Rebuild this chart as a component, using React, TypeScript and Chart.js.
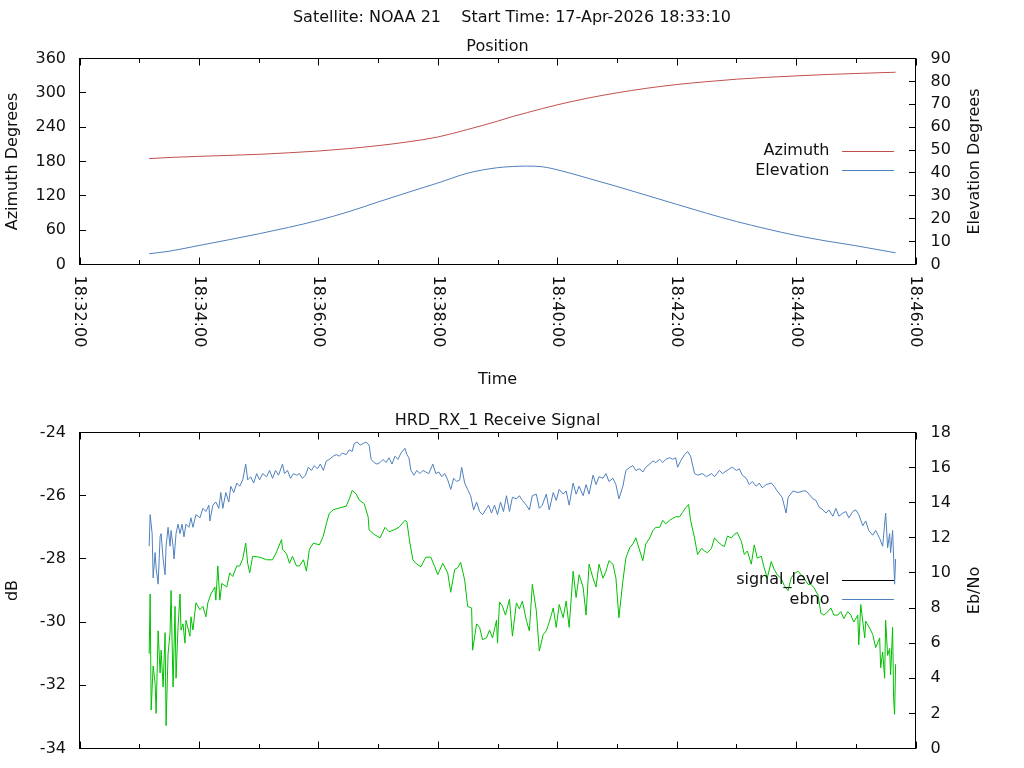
import React, { useEffect, useRef } from "react";
import { Chart, registerables } from "chart.js";

Chart.register(...registerables);

// ---------- data ----------
const BASE_SECONDS = 18 * 3600 + 32 * 60; // 18:32:00, x values are seconds after this
const X_MIN = 0;
const X_MAX = 840;
const X_MAJOR = 120;

const mainTitle = "Satellite: NOAA 21    Start Time: 17-Apr-2026 18:33:10";
const positionTitle = "Position";
const signalTitle = "HRD_RX_1 Receive Signal";
const timeTitle = "Time";
const azTitle = "Azimuth Degrees";
const elTitle = "Elevation Degrees";
const dbTitle = "dB";
const ebnoTitle = "Eb/No";

const posTimes = [70, 90, 120, 150, 180, 210, 240, 270, 300, 330, 360, 390, 420, 435, 450, 465, 480, 510, 540, 570, 600, 630, 660, 690, 720, 750, 780, 820];
const azimuth = [185, 187, 189, 190.7, 192.5, 195.2, 198.3, 202.5, 207.7, 214.3, 222.8, 236, 250.5, 258.5, 265.5, 272.5, 279, 290.5, 300, 308, 314.5, 319.5, 323.8, 327, 329.6, 332, 333.8, 336];
const elevation = [4.7, 5.8, 8.3, 10.8, 13.4, 16.2, 19.3, 23.0, 27.3, 31.5, 35.6, 39.9, 42.3, 42.8, 43.0, 42.7, 41.4, 37.8, 34.1, 30.2, 26.3, 22.4, 18.8, 15.6, 12.7, 10.3, 8.2, 5.1];

const sigTimes = [
  70, 71, 73, 74, 76, 77, 79, 81, 82, 84,
  86, 87, 89, 91, 92, 94, 95, 97, 99, 101,
  103, 105, 107, 110, 112, 114, 117, 121, 124, 127,
  130, 131, 134, 137, 140, 142, 144, 147, 150, 152,
  155, 158, 161, 164, 167, 169, 172, 175, 178, 181,
  184, 188, 191, 194, 197, 200, 204, 206, 209, 212,
  215, 218, 221, 224, 227, 230, 233, 236, 239, 242,
  245, 248, 251, 255, 258, 261, 264, 268, 271, 274,
  276, 279, 282, 285, 288, 291, 293, 296, 299, 302,
  305, 308, 311, 314, 317, 320, 323, 327, 329, 331,
  333, 336, 339, 342, 345, 348, 351, 355, 358, 361,
  364, 367, 370, 373, 376, 379, 382, 384, 387, 390,
  393, 396, 399, 402, 405, 408, 411, 414, 417, 420,
  423, 426, 429, 432, 435, 439, 442, 445, 449, 452,
  455, 459, 462, 465, 469, 472, 476, 479, 482, 486,
  489, 492, 496, 499, 502, 506, 509, 512, 516, 519,
  522, 526, 529, 532, 536, 539, 542, 546, 549, 553,
  556, 559, 563, 566, 569, 573, 576, 579, 583, 586,
  589, 593, 596, 599, 601, 604, 608, 611, 614, 618,
  621, 626, 630, 635, 638, 643, 646, 653, 656, 660,
  663, 666, 670, 673, 676, 680, 683, 686, 690, 695,
  698, 701, 706, 710, 712, 717, 722, 727, 730, 733,
  737, 740, 743, 747, 750, 753, 757, 760, 763, 767,
  770, 773, 777, 780, 783, 787, 790, 793, 797, 800,
  804, 807, 810, 812, 814, 815, 817, 819, 820,
];
const sigLevel = [
  -27.6, -26.6, -27.2, -28.6, -27.8, -28.3, -28.8, -27.3, -27.2, -28.0,
  -28.5, -27.6, -27.0, -27.6, -27.1, -27.6, -28.0, -27.2, -26.9, -27.2,
  -26.9, -27.3, -26.9, -27.0, -26.7, -27.0, -26.6, -26.7, -26.4, -26.5,
  -26.3, -26.8, -26.3, -26.2, -26.4, -25.9, -26.4, -25.9, -26.2, -25.7,
  -25.9, -25.6, -25.7, -25.5, -25.0, -25.5, -25.4, -25.6, -25.3, -25.5,
  -25.3, -25.4, -25.2, -25.45, -25.2, -25.35, -25.0, -25.3, -25.2, -25.45,
  -25.3, -25.35, -25.3, -25.45, -25.35, -25.1, -25.2, -25.05, -25.15, -25.0,
  -25.2, -24.9, -24.85, -24.75, -24.7, -24.75, -24.65, -24.7, -24.55, -24.6,
  -24.35, -24.3, -24.4, -24.35, -24.3, -24.4, -24.85, -24.95, -25.0, -24.95,
  -24.85, -24.95, -24.8, -25.0, -24.75, -24.85, -24.65, -24.5, -24.7, -24.8,
  -25.2, -25.35, -25.2, -25.3, -25.2, -25.25, -25.3, -25.0, -25.3, -25.25,
  -25.4, -25.3, -25.5, -25.8, -25.45, -25.55, -25.5, -25.1, -25.6, -25.8,
  -26.0, -26.45, -26.2, -26.5, -26.6, -26.45, -26.3, -26.55, -26.3, -26.6,
  -26.2, -26.5, -26.0, -26.5, -26.05, -26.1, -26.0, -26.15, -26.3, -26.45,
  -26.0, -25.95, -26.4, -26.3, -25.95, -26.45, -25.9, -26.15, -25.8, -25.95,
  -25.85, -26.3, -25.6, -25.95, -25.7, -26.0, -25.65, -25.95, -25.35, -25.65,
  -25.4, -25.45, -25.3, -25.55, -25.45, -25.65, -26.1, -25.7, -25.2, -25.1,
  -25.05, -25.2, -25.15, -25.25, -25.1, -25.0, -24.9, -24.95, -24.85, -24.95,
  -24.85, -24.8, -24.85, -24.8, -25.1, -24.9, -24.7, -24.6, -24.75, -25.3,
  -25.35, -25.3, -25.4, -25.3, -25.4, -25.2, -25.3, -25.15, -25.1, -25.2,
  -25.15, -25.35, -25.45, -25.65, -25.55, -25.7, -25.6, -25.75, -25.65, -25.6,
  -25.7, -25.85, -26.05, -26.55, -26.05, -25.85, -25.9, -25.85, -25.85, -25.95,
  -26.1, -26.15, -26.35, -26.45, -26.55, -26.45, -26.65, -26.4, -26.65, -26.55,
  -26.5, -26.7, -26.5, -26.45, -26.6, -26.95, -26.8, -27.1, -27.25, -27.1,
  -27.35, -27.6, -26.55, -27.65, -27.2, -27.8, -27.1, -28.8, -28.0,
];

const ebnoTimes = [
  70, 71, 72, 74, 76, 77, 79, 81, 82, 84,
  86, 87, 89, 91, 92, 94, 96, 97, 99, 101,
  102, 104, 106, 107, 111, 112, 114, 117, 121, 124,
  127, 129, 132, 136, 137, 139, 141, 143, 148, 151,
  154, 158, 161, 164, 167, 169, 171, 174, 181, 188,
  194, 198, 203, 204, 208, 211, 214, 218, 221, 225,
  228, 231, 235, 241, 245, 248, 251, 255, 261, 268,
  271, 274, 278, 281, 286, 290, 291, 296, 302, 307,
  311, 316, 321, 327, 329, 332, 335, 338, 343, 348,
  353, 357, 360, 365, 370, 373, 377, 380, 383, 387,
  390, 394, 395, 399, 402, 405, 409, 412, 415, 419,
  420, 422, 425, 428, 432, 435, 439, 442, 445, 449,
  452, 455, 459, 462, 466, 469, 472, 476, 479, 482,
  486, 489, 492, 496, 499, 502, 506, 509, 512, 516,
  519, 522, 526, 529, 532, 536, 539, 542, 546, 549,
  553, 556, 559, 563, 566, 569, 573, 576, 579, 583,
  586, 589, 593, 596, 599, 603, 606, 609, 612, 614,
  618, 621, 625, 628, 631, 635, 638, 641, 645, 648,
  651, 655, 658, 661, 665, 668, 671, 675, 678, 681,
  685, 688, 691, 695, 698, 701, 705, 708, 712, 715,
  718, 722, 725, 728, 732, 735, 738, 742, 745, 748,
  752, 755, 758, 762, 765, 768, 772, 775, 778, 782,
  783, 785, 789, 790, 794, 797, 800, 804, 805, 807,
  809, 810, 812, 814, 815, 817, 818, 819, 820,
];
const ebnoValues = [
  5.4, 8.8, 2.2, 4.7, 3.7, 2.0, 6.7, 4.3, 5.6, 3.5,
  6.6, 1.3, 5.4, 6.6, 9.0, 3.5, 8.1, 4.0, 6.9, 8.8,
  6.75, 7.1, 6.0, 7.3, 6.4, 7.5, 6.75, 8.3, 7.9, 8.1,
  7.5, 8.3, 8.8, 9.2, 8.45, 10.4, 8.45, 9.4, 9.2, 10.0,
  9.8, 10.4, 10.4, 10.8, 11.7, 10.55, 10.0, 10.95, 10.9, 10.75,
  10.75, 11.2, 11.9, 11.35, 11.1, 10.55, 10.95, 10.4, 10.4, 10.75,
  10.1, 11.35, 11.7, 11.6, 12.1, 12.8, 13.4, 13.6, 13.7, 13.8,
  14.2, 14.7, 14.5, 14.15, 13.95, 13.2, 12.45, 12.2, 12.0, 12.6,
  12.35, 12.45, 12.6, 13.0, 12.9, 11.7, 10.75, 10.55, 10.35, 10.9,
  10.9, 10.35, 9.9, 10.55, 10.0, 8.9, 10.2, 10.3, 10.6, 9.6,
  8.1, 8.0, 5.6, 7.1, 6.9, 6.2, 6.3, 6.75, 6.3, 7.3,
  6.0, 8.35, 8.1, 7.6, 8.5, 6.4, 8.3, 7.95, 8.4, 7.3,
  6.7, 9.35, 7.85, 5.55, 6.5, 6.7, 7.2, 8.0, 6.9, 8.2,
  7.45, 8.4, 6.9, 10.1, 8.6, 9.9, 9.2, 7.6, 10.5, 9.7,
  9.2, 10.5, 9.7, 10.1, 10.7, 10.5, 9.7, 7.45, 9.55, 10.85,
  11.45, 11.65, 12.0, 11.25, 10.7, 11.65, 12.0, 12.4, 12.6, 12.6,
  13.0, 12.8, 13.0, 13.1, 13.2, 13.2, 13.45, 13.7, 13.9, 13.0,
  12.0, 11.05, 11.4, 11.25, 11.15, 11.4, 12.0, 11.8, 11.6, 11.5,
  12.1, 12.0, 12.2, 12.3, 11.8, 11.05, 11.25, 10.5, 11.6, 10.85,
  10.95, 10.3, 9.7, 10.65, 10.2, 9.9, 9.7, 9.3, 9.0, 9.7,
  9.95, 10.1, 9.9, 9.7, 9.35, 9.35, 9.15, 8.75, 7.7, 7.6,
  7.8, 8.0, 7.6, 7.6, 7.8, 7.4, 7.8, 7.6, 7.2, 7.6,
  5.9, 8.2, 6.3, 7.25, 6.85, 6.5, 5.75, 6.3, 4.6, 5.5,
  4.0, 7.3, 5.3, 5.7, 4.2, 6.9, 2.9, 1.95, 4.8,
];

// ---------- styling ----------
const FAMILY = "'DejaVu Sans', 'Liberation Sans', sans-serif";
const FONT = { family: FAMILY, size: 16, weight: "normal" as const, lineHeight: 1.2 };
const TEXT = "#111111";
const RED = "#c0504d";
const BLUE = "#4f81bd";
const GREEN = "#00c000";

function fmtTime(v: number): string {
  const s = BASE_SECONDS + v;
  const hh = Math.floor(s / 3600);
  const mm = Math.floor((s % 3600) / 60);
  const ss = Math.floor(s % 60);
  const p = (n: number) => String(n).padStart(2, "0");
  return `${p(hh)}:${p(mm)}:${p(ss)}`;
}

const gnuplotFrame = {
  id: "gpframe",
  afterDraw(chart: any, _args: any, opts: any) {
    const ctx = chart.ctx as CanvasRenderingContext2D;
    const ca = chart.chartArea;
    const xs = chart.scales.x;
    const y1 = chart.scales.y;
    const y2 = chart.scales.y2;
    ctx.save();
    ctx.strokeStyle = "#000";
    ctx.lineWidth = 1;
    ctx.strokeRect(Math.floor(ca.left) + 0.5, Math.floor(ca.top) + 0.5, Math.round(ca.right - ca.left), Math.round(ca.bottom - ca.top));
    const top = Math.floor(ca.top) + 0.5;
    const bot = Math.floor(ca.bottom) + 0.5;
    const left = Math.floor(ca.left) + 0.5;
    const right = Math.floor(ca.right) + 0.5;
    ctx.beginPath();
    const majors: number[] = xs.ticks.map((t: any) => t.value);
    const all: { v: number; major: boolean }[] = [];
    majors.forEach((v, i) => {
      all.push({ v, major: true });
      if (i < majors.length - 1) all.push({ v: (v + majors[i + 1]) / 2, major: false });
    });
    all.forEach(({ v, major }) => {
      const px = Math.round(xs.getPixelForValue(v)) + 0.5;
      const len = major ? 7 : 4.5;
      ctx.moveTo(px, bot);
      ctx.lineTo(px, bot - len);
      ctx.moveTo(px, top);
      ctx.lineTo(px, top + len);
    });
    y1.ticks.forEach((t: any) => {
      const py = Math.floor(y1.getPixelForValue(t.value)) + 0.5;
      ctx.moveTo(left, py);
      ctx.lineTo(left + 6.5, py);
    });
    y2.ticks.forEach((t: any) => {
      const py = Math.floor(y2.getPixelForValue(t.value)) + 0.5;
      ctx.moveTo(right, py);
      ctx.lineTo(right - 6.5, py);
    });
    ctx.stroke();

    ctx.fillStyle = TEXT;
    ctx.font = `16px ${FAMILY}`;
    if (opts.xLabels) {
      majors.forEach((v) => {
        const px = xs.getPixelForValue(v);
        ctx.save();
        ctx.translate(px, ca.bottom + 11);
        ctx.rotate(Math.PI / 2);
        ctx.textAlign = "left";
        ctx.textBaseline = "middle";
        ctx.fillText(fmtTime(v), 0, 0);
        ctx.restore();
      });
    }
    if (opts.rightTitle) {
      ctx.save();
      ctx.translate(974.5, (ca.top + ca.bottom) / 2);
      ctx.rotate(-Math.PI / 2);
      ctx.textAlign = "center";
      ctx.textBaseline = "middle";
      ctx.fillText(opts.rightTitle, 0, 0);
      ctx.restore();
    }
    if (opts.key) {
      const cy = (ca.top + ca.bottom) / 2;
      const rows = [cy - 10.5, cy + 9];
      opts.key.forEach((item: any, i: number) => {
        const ry = rows[i];
        ctx.textAlign = "right";
        ctx.textBaseline = "middle";
        ctx.fillStyle = TEXT;
        ctx.fillText(item.text, ca.right - 86, ry);
        ctx.strokeStyle = item.color;
        ctx.beginPath();
        const ly = Math.floor(ry) + 0.5;
        ctx.moveTo(ca.right - 73.5, ly);
        ctx.lineTo(ca.right - 21.5, ly);
        ctx.stroke();
      });
    }
    ctx.restore();
  },
};

const lineCommon = {
  borderWidth: 1,
  pointRadius: 0,
  tension: 0,
  fill: false,
};

function xScale(height: number, withTitle: boolean) {
  return {
    type: "linear" as const,
    position: "bottom" as const,
    min: X_MIN,
    max: X_MAX,
    ticks: { display: false, stepSize: X_MAJOR, padding: 0 },
    grid: { display: false, drawTicks: false },
    border: { display: false },
    title: { display: withTitle, text: timeTitle, font: FONT, color: TEXT, padding: { top: 0, bottom: 0.6 } },
    afterFit: (s: any) => {
      s.height = height;
    },
  };
}

function yScale(pos: "left" | "right", min: number, max: number, step: number, title: string | null) {
  return {
    type: "linear" as const,
    position: pos,
    min,
    max,
    ticks: {
      stepSize: step,
      padding: 0,
      font: FONT,
      color: TEXT,
      callback: (v: any) => String(v),
    },
    // grid lines are hidden; tickLength only sets the gap between frame and labels
    grid: { display: false, drawTicks: true, tickLength: pos === "left" ? 13.5 : 15 },
    border: { display: false },
    title: title
      ? { display: true, text: title, font: FONT, color: TEXT, padding: { top: 3.4, bottom: 0 } }
      : { display: false },
    afterFit: (s: any) => {
      s.width = pos === "left" ? 79.5 : 108.5;
    },
  };
}

function PositionChart() {
  const ref = useRef<HTMLCanvasElement | null>(null);
  useEffect(() => {
    if (!ref.current) return;
    const chart = new Chart(ref.current, {
      type: "line",
      data: {
        datasets: [
          {
            label: "Azimuth",
            data: posTimes.map((t, i) => ({ x: t, y: azimuth[i] })),
            borderColor: RED,
            yAxisID: "y",
            ...lineCommon,
            cubicInterpolationMode: "monotone",
          },
          {
            label: "Elevation",
            data: posTimes.map((t, i) => ({ x: t, y: elevation[i] })),
            borderColor: BLUE,
            yAxisID: "y2",
            ...lineCommon,
            cubicInterpolationMode: "monotone",
          },
        ],
      },
      options: {
        responsive: false,
        animation: false,
        events: [],
        layout: { padding: 0 },
        plugins: {
          legend: { display: false },
          tooltip: { enabled: false },
          title: {
            display: true,
            text: mainTitle,
            font: FONT,
            color: TEXT,
            fullSize: true,
            padding: { top: 8.3, bottom: 0 },
          },
          subtitle: {
            display: true,
            text: positionTitle,
            font: FONT,
            color: TEXT,
            fullSize: false,
            padding: { top: 10, bottom: 1.8 },
          },
          gpframe: {
            xLabels: true,
            rightTitle: elTitle,
            key: [
              { text: "Azimuth", color: RED },
              { text: "Elevation", color: BLUE },
            ],
          },
        } as any,
        scales: {
          x: xScale(125.5, true),
          y: yScale("left", 0, 360, 60, azTitle),
          y2: yScale("right", 0, 90, 10, null),
        } as any,
      },
      plugins: [gnuplotFrame],
    });
    return () => chart.destroy();
  }, []);
  return (
    <canvas
      ref={ref}
      width={1024}
      height={390}
      style={{ position: "absolute", left: 0, top: 0, width: 1024, height: 390 }}
    />
  );
}

function SignalChart() {
  const ref = useRef<HTMLCanvasElement | null>(null);
  useEffect(() => {
    if (!ref.current) return;
    const chart = new Chart(ref.current, {
      type: "line",
      data: {
        datasets: [
          {
            label: "signal_level",
            data: sigTimes.map((t, i) => ({ x: t, y: sigLevel[i] })),
            borderColor: BLUE,
            yAxisID: "y",
            ...lineCommon,
          },
          {
            label: "ebno",
            data: ebnoTimes.map((t, i) => ({ x: t, y: ebnoValues[i] })),
            borderColor: GREEN,
            yAxisID: "y2",
            ...lineCommon,
          },
        ],
      },
      options: {
        responsive: false,
        animation: false,
        events: [],
        layout: { padding: 0 },
        plugins: {
          legend: { display: false },
          tooltip: { enabled: false },
          title: {
            display: true,
            text: signalTitle,
            font: FONT,
            color: TEXT,
            fullSize: false,
            padding: { top: 20.8, bottom: 2.5 },
          },
          gpframe: {
            xLabels: false,
            rightTitle: ebnoTitle,
            key: [
              { text: "signal_level", color: "#000000" },
              { text: "ebno", color: BLUE },
            ],
          },
        } as any,
        scales: {
          x: xScale(19.5, false),
          y: yScale("left", -34, -24, 2, dbTitle),
          y2: yScale("right", 0, 18, 2, null),
        } as any,
      },
      plugins: [gnuplotFrame],
    });
    return () => chart.destroy();
  }, []);
  return (
    <canvas
      ref={ref}
      width={1024}
      height={378}
      style={{ position: "absolute", left: 0, top: 390, width: 1024, height: 378 }}
    />
  );
}

export default function App() {
  return (
    <div
      style={{
        position: "absolute",
        left: 0,
        top: 0,
        width: 1024,
        height: 768,
        background: "#ffffff",
        overflow: "hidden",
      }}
    >
      <PositionChart />
      <SignalChart />
    </div>
  );
}
